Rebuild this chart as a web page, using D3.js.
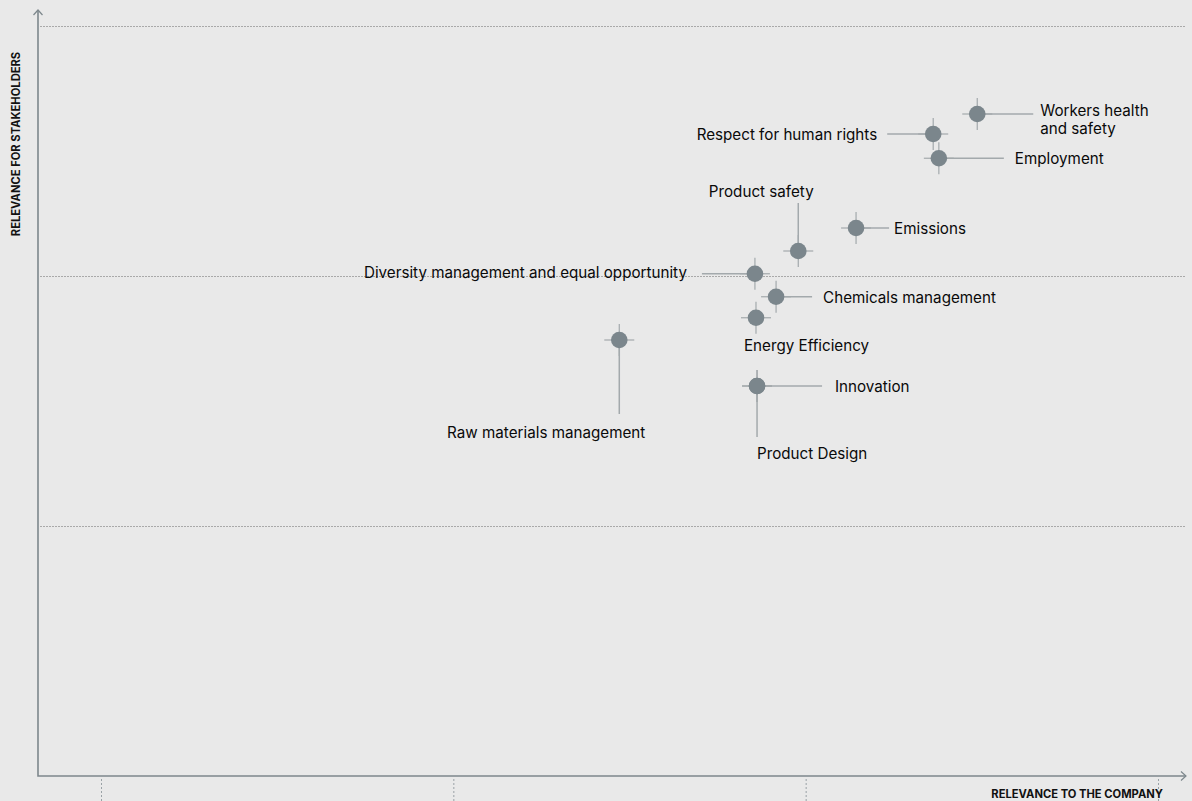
<!DOCTYPE html>
<html>
<head>
<meta charset="utf-8">
<script src="https://cdn.jsdelivr.net/npm/d3@7"></script>
<style>
  html, body { margin: 0; padding: 0; background: #e9e9e9; }
  svg { display: block; font-family: Inter, "Noto Sans", sans-serif; }
</style>
</head>
<body>
<svg id="chart" width="1192" height="801"></svg>
<script>
// topics and their scores (company relevance, stakeholder relevance)
const topics = [
  "Workers health\nand safety", "Respect for human rights", "Employment", "Emissions",
  "Product safety", "Diversity management and equal opportunity", "Chemicals management",
  "Energy Efficiency", "Raw materials management", "Innovation", "Product Design"
];
const companyScore =     [2.487, 2.362, 2.378, 2.143, 1.979, 1.856, 1.916, 1.859, 1.471, 1.862, 1.862];
const stakeholderScore = [2.648, 2.568, 2.471, 2.192, 2.100, 2.009, 1.917, 1.833, 1.744, 1.560, 1.560];
const xTicks = [0, 1, 2, 3];
const yGrid = [1, 2, 3];

// label placement: side of leader, leader length, text offset from leader end
const placement = [
  { side: "right", len: 56, dx: 7, dy: -4 },
  { side: "left", len: 46, dx: -10, dy: 0 },
  { side: "right", len: 65, dx: 11, dy: 0 },
  { side: "right", len: 33, dx: 5, dy: 0 },
  { side: "up", len: 48, dx: -37, dy: -12, anchor: "middle" },
  { side: "left", len: 53, dx: -15, dy: -2 },
  { side: "right", len: 36, dx: 11, dy: 0 },
  { side: "below", len: 0, dx: -12, dy: 27, anchor: "start" },
  { side: "down", len: 74, dx: 26, dy: 18, anchor: "end" },
  { side: "right", len: 65, dx: 13, dy: 0 },
  { side: "down", len: 51, dx: 0, dy: 16, anchor: "start" }
];

const svg = d3.select("#chart");
const axisColor = "#7d878c";
const lineColor = "#a3a9ac";

const x = d3.scaleLinear().domain([0, 3]).range([101, 1158]);
const y = d3.scaleLinear().domain([0, 3]).range([776, 26]);

// horizontal dotted grid
const grid = svg.append("g")
  .attr("transform", "translate(40,0)")
  .call(d3.axisLeft(y).tickValues(yGrid).tickSize(-1145).tickFormat(""));
grid.select(".domain").remove();
grid.selectAll("line")
  .attr("stroke", "#a9a9a9").attr("stroke-dasharray", "2,1").attr("stroke-width", 1);

// dotted ticks under x axis
const xt = svg.append("g")
  .attr("transform", "translate(0,779)")
  .call(d3.axisBottom(x).tickValues(xTicks).tickSize(22).tickFormat(""));
xt.select(".domain").remove();
xt.selectAll("line")
  .attr("stroke", "#9aa2a6").attr("stroke-dasharray", "2,2").attr("stroke-width", 1);

// axes with arrow heads
svg.append("path")
  .attr("d", "M38,10 L38,776 L1186,776")
  .attr("fill", "none").attr("stroke", axisColor).attr("stroke-width", 1.6);
svg.append("path")
  .attr("d", "M33.5,15 L38,10 L42.5,15 M1181,771.5 L1186,776 L1181,780.5")
  .attr("fill", "none").attr("stroke", axisColor).attr("stroke-width", 1.2);

const data = topics.map((t, i) => ({
  name: t, cx: x(companyScore[i]), cy: y(stakeholderScore[i]), p: placement[i]
}));

// crosshairs
const cross = svg.append("g").attr("stroke", lineColor).attr("stroke-width", 1.2);
data.forEach(d => {
  cross.append("line").attr("x1", d.cx - 15).attr("x2", d.cx + 15).attr("y1", d.cy).attr("y2", d.cy);
  cross.append("line").attr("x1", d.cx).attr("x2", d.cx).attr("y1", d.cy - 16).attr("y2", d.cy + 16);
});

// leader lines
const leaderEnd = d => {
  const p = d.p;
  if (p.side === "right") return [d.cx + p.len, d.cy];
  if (p.side === "left") return [d.cx - p.len, d.cy];
  if (p.side === "up") return [d.cx, d.cy - p.len];
  if (p.side === "down") return [d.cx, d.cy + p.len];
  return [d.cx, d.cy];
};
svg.append("g").attr("stroke", lineColor).attr("stroke-width", 1.5)
  .selectAll("line").data(data.filter(d => d.p.len > 0)).join("line")
  .attr("x1", d => d.cx).attr("y1", d => d.cy)
  .attr("x2", d => leaderEnd(d)[0]).attr("y2", d => leaderEnd(d)[1]);

// points
svg.append("g").selectAll("circle").data(data).join("circle")
  .attr("cx", d => d.cx).attr("cy", d => d.cy).attr("r", 8.3)
  .attr("fill", "#7b868c");

// labels
const labels = svg.append("g").attr("font-size", 15.2).attr("fill", "#0a0a0a");
data.forEach(d => {
  const [ex, ey] = leaderEnd(d);
  const anchor = d.p.anchor || (d.p.side === "left" ? "end" : "start");
  const t = labels.append("text")
    .attr("x", ex + d.p.dx).attr("y", ey + d.p.dy)
    .attr("text-anchor", anchor).attr("dominant-baseline", "central");
  d.name.split("\n").forEach((line, k) => {
    t.append("tspan").attr("x", ex + d.p.dx).attr("dy", k === 0 ? 0 : 18).text(line);
  });
});

// axis titles
svg.append("text")
  .attr("transform", "translate(20,144) rotate(-90)")
  .attr("text-anchor", "middle")
  .attr("font-size", 11.2).attr("font-weight", 700).attr("fill", "#111")
  .text("RELEVANCE FOR STAKEHOLDERS");
svg.append("text")
  .attr("x", 1163).attr("y", 798)
  .attr("text-anchor", "end")
  .attr("font-size", 11.2).attr("font-weight", 700).attr("fill", "#111")
  .text("RELEVANCE TO THE COMPANY");
</script>
</body>
</html>
